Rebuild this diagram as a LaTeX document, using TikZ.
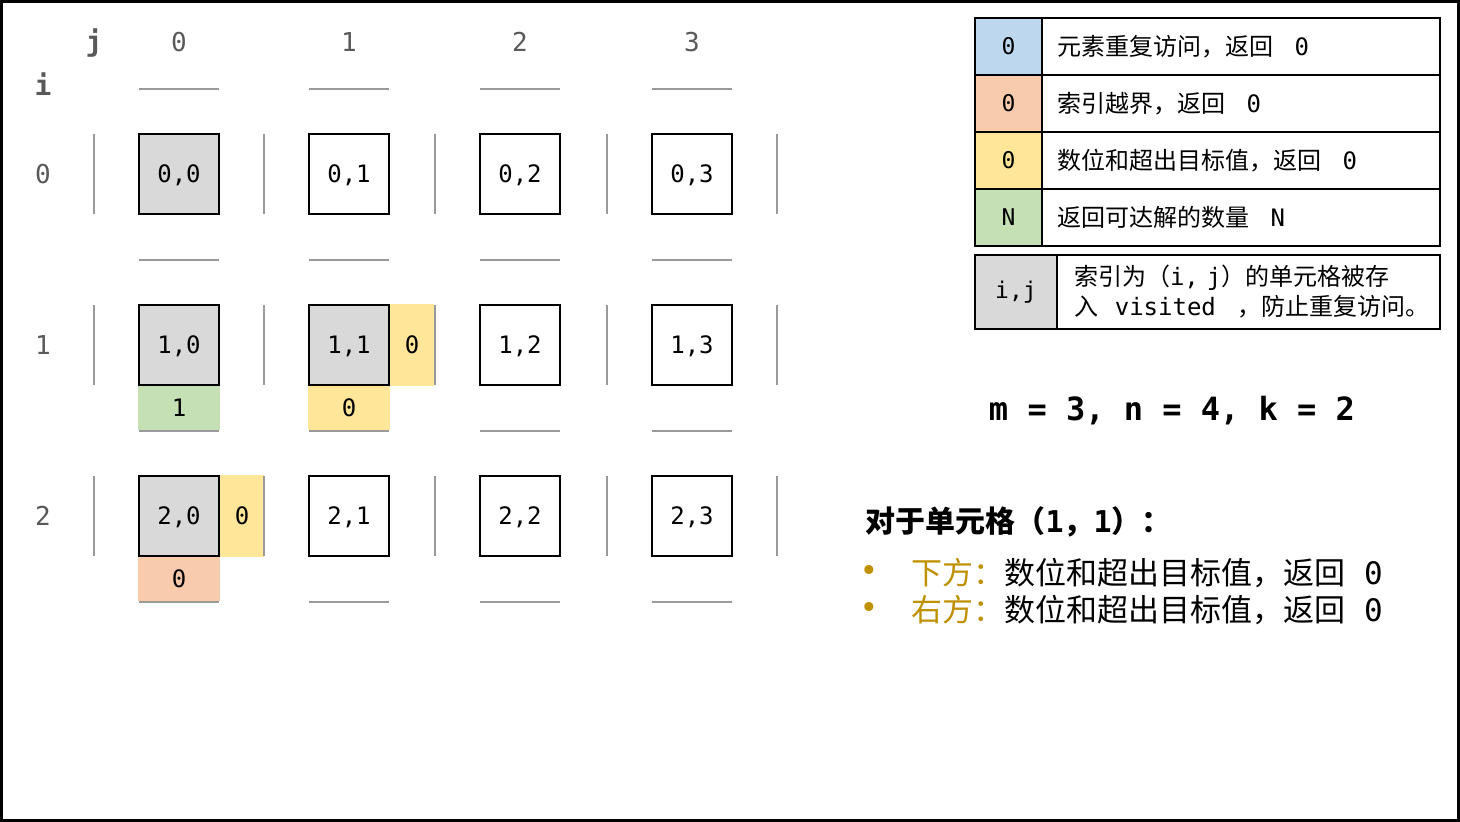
\documentclass[tikz,border=0pt]{standalone}
\usepackage{fontspec}
\setmainfont{DejaVu Sans Mono}
\newfontfamily\cjk{Noto Sans CJK SC}
\usetikzlibrary{positioning}
\definecolor{visgray}{HTML}{D9D9D9}
\definecolor{keyblue}{HTML}{BDD7EE}
\definecolor{keypink}{HTML}{F8CBAD}
\definecolor{keyyellow}{HTML}{FFE699}
\definecolor{keygreen}{HTML}{C5E0B4}
\definecolor{headgray}{HTML}{595959}
\definecolor{linegray}{HTML}{9A9A9A}
\definecolor{tipgold}{HTML}{BF9000}
\tikzset{
  cellbox/.style={draw, line width=2pt, minimum size=80pt, inner sep=0pt, text depth=0pt, font=\fontsize{24}{24}\selectfont},
  visited/.style={cellbox, fill=visgray},
  sidebox/.style={inner sep=0pt, minimum width=44pt, minimum height=82pt, anchor=north west, font=\fontsize{24}{24}\selectfont},
  downbox/.style={inner sep=0pt, minimum width=82pt, minimum height=44pt, anchor=north west, font=\fontsize{24}{24}\selectfont},
  sepline/.style={line width=2pt, color=linegray},
  headlabel/.style={text=headgray, font=\fontsize{26}{26}\selectfont},
  legkey/.style={draw, line width=2pt, outer sep=0pt, inner sep=0pt, minimum width=67pt, minimum height=57pt, font=\fontsize{23}{23}\selectfont},
  legtext/.style={draw, line width=2pt, outer sep=0pt, minimum width=398pt, minimum height=57pt, text width=368pt, inner xsep=15pt, align=left, font=\fontsize{24}{24}\selectfont},
}
\begin{document}
\begin{tikzpicture}[x=1pt, y=-1pt]
\useasboundingbox (0,0) rectangle (1460,822);
\draw[line width=3pt] (1.5,1.5) rectangle (1458.5,820.5);
%headers
\node[headlabel, font=\fontsize{28}{28}\selectfont\bfseries] (hj) at (94,43) {j};
\node[headlabel, font=\fontsize{28}{28}\selectfont\bfseries] (hi) at (43,84) {i};
\node[headlabel] (col0) at (179,42) {0}; \node[headlabel] (col1) at (349,42) {1};
\node[headlabel] (col2) at (520,42) {2}; \node[headlabel] (col3) at (692,42) {3};
\node[headlabel] (row0) at (43,174) {0}; \node[headlabel] (row1) at (43,345) {1};
\node[headlabel] (row2) at (43,516) {2};
%cells
\node[visited] (c00) at (179,174) {0,0}; \node[cellbox] (c01) at (349,174) {0,1};
\node[cellbox] (c02) at (520,174) {0,2}; \node[cellbox] (c03) at (692,174) {0,3};
\node[visited] (c10) at (179,345) {1,0}; \node[visited] (c11) at (349,345) {1,1};
\node[cellbox] (c12) at (520,345) {1,2}; \node[cellbox] (c13) at (692,345) {1,3};
\node[visited] (c20) at (179,516) {2,0}; \node[cellbox] (c21) at (349,516) {2,1};
\node[cellbox] (c22) at (520,516) {2,2}; \node[cellbox] (c23) at (692,516) {2,3};
%returns
\node[downbox, fill=keygreen] (d10) at (c10.south west) {1};
\node[sidebox, fill=keyyellow] (r11) at (c11.north east) {0};
\node[downbox, fill=keyyellow] (d11) at (c11.south west) {0};
\node[sidebox, fill=keyyellow] (r20) at (c20.north east) {0};
\node[downbox, fill=keypink] (d20) at (c20.south west) {0};
%separators
\foreach \cx in {179,349,520,692}{
  \foreach \ly in {89,260,431,602}
    \draw[sepline] (\cx-40,\ly) -- (\cx+40,\ly);}
\foreach \ry in {174,345,516}{
  \foreach \lx in {94,264,435,607,777}
    \draw[sepline] (\lx,\ry-40) -- (\lx,\ry+40);}
%legend
\node[legkey, fill=keyblue] (k1) at (1008.5,46.5) {0};
\node[legkey, fill=keypink, below=0pt of k1] (k2) {0};
\node[legkey, fill=keyyellow, below=0pt of k2] (k3) {0};
\node[legkey, fill=keygreen, below=0pt of k3] (k4) {N};
\node[legtext, right=0pt of k1] (t1) {{\cjk 元素重复访问，返回}\hspace{0.9em}0};
\node[legtext, right=0pt of k2] (t2) {{\cjk 索引越界，返回}\hspace{0.9em}0};
\node[legtext, right=0pt of k3] (t3) {{\cjk 数位和超出目标值，返回}\hspace{0.9em}0};
\node[legtext, right=0pt of k4] (t4) {{\cjk 返回可达解的数量}\hspace{0.9em}N};
\node[legkey, fill=visgray, minimum width=82pt, minimum height=74pt] (vk) at (1016,292) {i,j};
\node[legtext, right=0pt of vk, minimum width=383pt, minimum height=74pt, text width=349pt, inner xsep=17pt,
  font=\fontsize{24}{30}\selectfont] (vt)
  {\mbox{{\cjk 索引为（}i, j{\cjk ）的单元格被存}}\\
   \mbox{{\cjk 入}\hspace{0.7em}visited\hspace{0.9em}{\cjk ，防止重复访问。}}};
%notes
\node[font=\fontsize{32}{32}\selectfont\bfseries] (mnk) at (1172,411) {m = 3, n = 4, k = 2};
\node[anchor=west, font=\fontsize{30}{30}\selectfont\bfseries] (head) at (862,522)
  {{\cjk 对于单元格（}1{\cjk ，}1{\cjk ）：}};
\node[text=tipgold, font=\fontsize{31}{31}\selectfont] (b1) at (869,573) {•};
\node[anchor=west, font=\fontsize{31}{31}\selectfont] (n1) at (908,573)
  {{\cjk\color{tipgold}下方：}{\cjk 数位和超出目标值，返回}\ 0};
\node[text=tipgold, font=\fontsize{31}{31}\selectfont] (b2) at (869,610) {•};
\node[anchor=west, font=\fontsize{31}{31}\selectfont] (n2) at (908,610)
  {{\cjk\color{tipgold}右方：}{\cjk 数位和超出目标值，返回}\ 0};
\end{tikzpicture}
\end{document}
